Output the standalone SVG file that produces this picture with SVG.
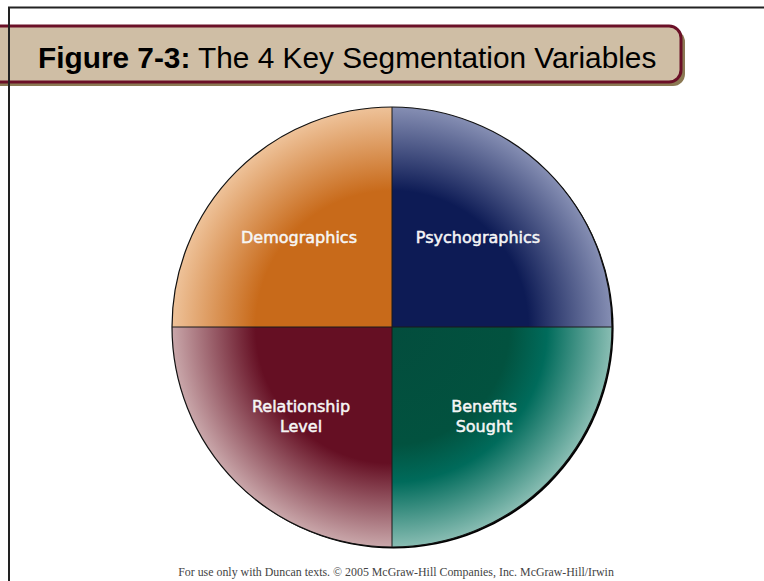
<svg xmlns="http://www.w3.org/2000/svg" width="764" height="581" viewBox="0 0 764 581">
  <style>
    .title { font-family: "Liberation Sans", Arial, sans-serif; font-size: 29.8px; fill: #000; }
    .label { font-family: "DejaVu Sans", Verdana, sans-serif; font-size: 16px; fill: #f6f6f6; stroke: #f6f6f6; stroke-width: 0.5; text-anchor: middle; }
    .footer { font-family: "Liberation Serif", "Times New Roman", serif; font-size: 11.9px; fill: #444; text-anchor: middle; }
    .divider { stroke: #1a1a1a; stroke-width: 1; fill: none; }
  </style>
  <defs>
    <radialGradient id="gDemo" gradientUnits="userSpaceOnUse" cx="392" cy="327" r="235">
      <stop offset="0" stop-color="#c86a1a"/>
      <stop offset="0.58" stop-color="#c86a1a"/>
      <stop offset="1" stop-color="#f5d2b0"/>
    </radialGradient>
    <radialGradient id="gPsy" gradientUnits="userSpaceOnUse" cx="392" cy="327" r="235">
      <stop offset="0" stop-color="#0d1b55"/>
      <stop offset="0.58" stop-color="#0d1b55"/>
      <stop offset="1" stop-color="#9ba3c4"/>
    </radialGradient>
    <radialGradient id="gRel" gradientUnits="userSpaceOnUse" cx="392" cy="327" r="235">
      <stop offset="0" stop-color="#650f23"/>
      <stop offset="0.58" stop-color="#650f23"/>
      <stop offset="1" stop-color="#dbc2c2"/>
    </radialGradient>
    <radialGradient id="gBen" gradientUnits="userSpaceOnUse" cx="392" cy="327" r="235">
      <stop offset="0" stop-color="#034d3d"/>
      <stop offset="0.5" stop-color="#02523f"/>
      <stop offset="0.66" stop-color="#006b5b"/>
      <stop offset="1" stop-color="#a8d0c7"/>
    </radialGradient>
  </defs>

  <rect width="764" height="581" fill="#ffffff"/>

  <!-- title banner -->
  <g id="title">
    <rect x="-20" y="30" width="705" height="56" rx="12" fill="#8b7953"/>
    <rect x="-20" y="26" width="701" height="56" rx="12" fill="#cfbea5" stroke="#6b1027" stroke-width="3"/>
    <text class="title" x="38" y="68"><tspan font-weight="bold">Figure 7-3:</tspan> The 4 Key Segmentation Variables</text>
  </g>

  <!-- page frame -->
  <path d="M9 581 V7.5 H764" fill="none" stroke="#222" stroke-width="2"/>

  <!-- circle shadow -->
  <circle cx="393.6" cy="328.6" r="220" fill="#000"/>

  <g id="demographics">
    <path d="M392 327 H172 A220 220 0 0 1 392 107 Z" fill="url(#gDemo)"/>
    <text class="label" x="299" y="243">Demographics</text>
  </g>
  <g id="psychographics">
    <path d="M392 327 V107 A220 220 0 0 1 612 327 Z" fill="url(#gPsy)"/>
    <text class="label" x="478" y="243">Psychographics</text>
  </g>
  <g id="relationship-level">
    <path d="M392 327 H172 A220 220 0 0 0 392 547 Z" fill="url(#gRel)"/>
    <text class="label" x="301" y="412">Relationship</text>
    <text class="label" x="301" y="432">Level</text>
  </g>
  <g id="benefits-sought">
    <path d="M392 327 V547 A220 220 0 0 0 612 327 Z" fill="url(#gBen)"/>
    <text class="label" x="484" y="412">Benefits</text>
    <text class="label" x="484" y="432">Sought</text>
  </g>

  <g id="dividers">
    <circle cx="392" cy="327" r="220" fill="none" stroke="#111" stroke-width="1.2"/>
    <line class="divider" x1="392" y1="107" x2="392" y2="547"/>
    <line class="divider" x1="172" y1="327" x2="612" y2="327"/>
  </g>

  <text class="footer" x="396" y="576">For use only with Duncan texts. © 2005 McGraw-Hill Companies, Inc. McGraw-Hill/Irwin</text>
</svg>
